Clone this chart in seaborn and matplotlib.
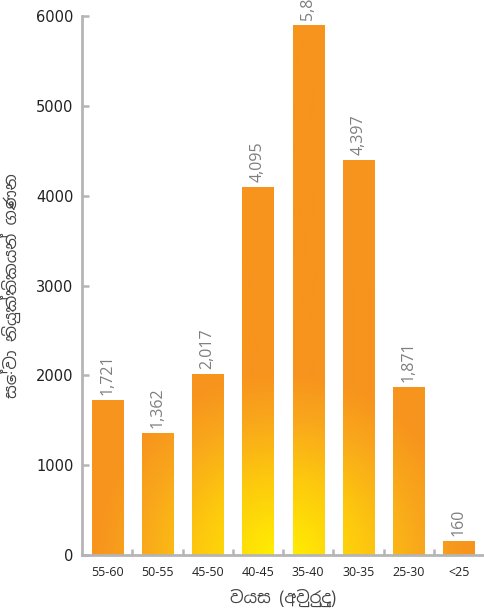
import numpy as np
import pandas as pd
import matplotlib
matplotlib.use("Agg")
import matplotlib.pyplot as plt
import seaborn as sns
from matplotlib.colors import LinearSegmentedColormap

categories = ["55-60", "50-55", "45-50", "40-45", "35-40", "30-35", "25-30", "<25"]
values = [1721, 1362, 2017, 4095, 5898, 4397, 1871, 160]
y_ticks = [0, 1000, 2000, 3000, 4000, 5000, 6000]
x_label = "වයස (අවුරුදු)"
y_label = "සේවා නියුක්තිකයන් ගණන"

sns.set_style("white")
plt.rcParams['font.family'] = ['Open Sans', 'Noto Sans Sinhala', 'DejaVu Sans']
sinhala = ['Noto Sans Sinhala', 'Open Sans', 'DejaVu Sans']

W, H = 484, 610
fig = plt.figure(figsize=(W / 100, H / 100), dpi=100)
ax_l, ax_r, ax_t, ax_b = 82, 484, 16, 555
ax = fig.add_axes([ax_l / W, (H - ax_b) / H, (ax_r - ax_l) / W, (ax_b - ax_t) / H])

df = pd.DataFrame({"cat": categories, "val": values})
sns.barplot(data=df, x="cat", y="val", ax=ax, width=0.62, color="#F7941D",
            saturation=1, edgecolor="none")

ax.set_xlim(-0.5, len(categories) - 0.5)
ax.set_ylim(0, 6000)

# radial gradient (pixel space)
nx, ny = ax_r - ax_l, ax_b - ax_t
xx, yy = np.meshgrid(np.arange(nx), np.arange(ny))
cx, cy, rad = 280 - ax_l, -5, 185
d = np.sqrt((xx - cx) ** 2 + (yy - cy) ** 2) / rad
t = np.clip(d, 0, 1)
cmap = LinearSegmentedColormap.from_list(
    "g", [(0, "#FFF200"), (0.45, "#FDC80E"), (0.75, "#F9A81B"), (1, "#F7941D")])
img = cmap(t)

for p in list(ax.patches):
    im = ax.imshow(img, extent=(-0.5, len(categories) - 0.5, 0, 6000),
                   origin="lower", aspect="auto", zorder=2, interpolation="bilinear")
    im.set_clip_path(p)
    p.set_facecolor("none")

ax.set_xlim(-0.5, len(categories) - 0.5)
ax.set_ylim(0, 6000)

for i, v in enumerate(values):
    ax.text(i, v + 55, f"{v:,}", rotation=90, ha="center", va="bottom",
            fontsize=11.5, color="#7f7f7f", clip_on=False, zorder=5)

ax.set_yticks(y_ticks)
ax.set_yticklabels([str(v) for v in y_ticks], fontsize=10.5, color="#222222",
                   family="DejaVu Sans")
ax.set_xticks(range(len(categories)))
ax.set_xticklabels(categories, fontsize=9, color="#222222")
ax.set_xticks(np.arange(0.5, len(categories) - 0.5, 1), minor=True)

gray = "#b5b5b5"
for s in ["top", "right"]:
    ax.spines[s].set_visible(False)
for s in ["left", "bottom"]:
    ax.spines[s].set_color(gray)
    ax.spines[s].set_linewidth(2)
ax.tick_params(axis="y", direction="in", length=5, width=1.8, color=gray, pad=6, left=True)
ax.tick_params(axis="x", which="major", length=0, pad=8)
ax.tick_params(axis="x", which="minor", direction="in", length=4, width=1.8, color=gray, bottom=True)

ax.set_xlabel(x_label, fontsize=12, color="#444444", labelpad=7, family=sinhala)
ax.set_ylabel(y_label, fontsize=12, color="#444444", labelpad=11, family=sinhala)

fig.savefig("out.png", dpi=100)
